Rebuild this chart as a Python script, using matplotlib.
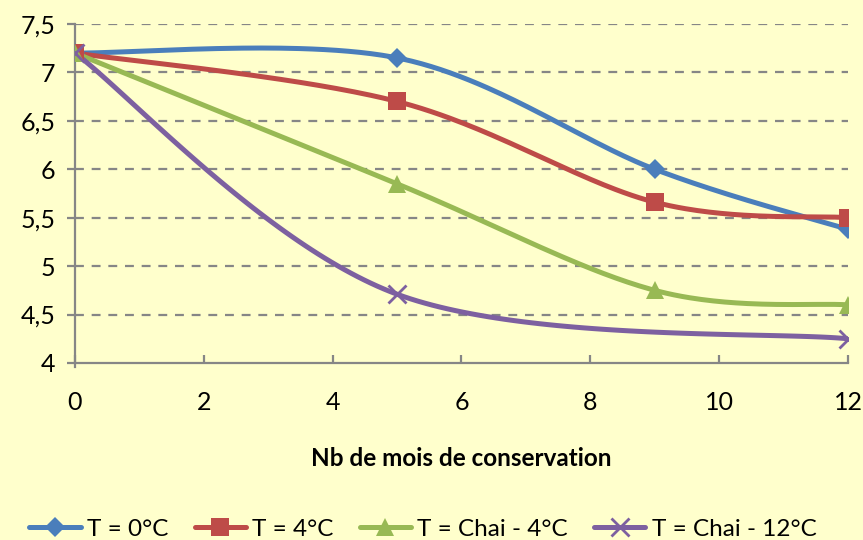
import numpy as np
import matplotlib
matplotlib.use("Agg")
import matplotlib.pyplot as plt
from matplotlib.ticker import FuncFormatter

plt.rcParams['font.family'] = ['Lato', 'DejaVu Sans']

# Months of storage and measured values for each storage condition
months_a = [0, 5, 9, 12]
t0 = [7.2, 7.15, 6.0, 5.38]
t4 = [7.2, 6.70, 5.66, 5.50]
chai4 = [7.2, 5.85, 4.75, 4.60]
months_b = [0, 5, 12]
chai12 = [7.2, 4.71, 4.25]

labels = ["T = 0°C", "T = 4°C", "T = Chai - 4°C", "T = Chai - 12°C"]
colors = ["#4A7EBB", "#BE4B48", "#98B954", "#7D60A0"]
markers = ["D", "s", "^", "x"]
msizes = [10, 13, 13, 13]

x_ticks = [0, 2, 4, 6, 8, 10, 12]
y_ticks = [4, 4.5, 5, 5.5, 6, 6.5, 7, 7.5]
bg = "#FFFFCC"


def smooth(xs, ys, n=60):
    """Cubic Bezier smoothing through the points (cardinal spline)."""
    p = np.column_stack([xs, ys]).astype(float)
    ext = np.vstack([p[0], p, p[-1]])
    out = []
    t = np.linspace(0, 1, n)[:, None]
    for i in range(len(p) - 1):
        p0, p1, p2, p3 = ext[i], ext[i + 1], ext[i + 2], ext[i + 3]
        c1 = p1 + (p2 - p0) / 6
        c2 = p2 - (p3 - p1) / 6
        seg = ((1 - t) ** 3) * p1 + 3 * ((1 - t) ** 2) * t * c1 + 3 * (1 - t) * t ** 2 * c2 + t ** 3 * p2
        out.append(seg if i == 0 else seg[1:])
    seg = np.vstack(out)
    return seg[:, 0], seg[:, 1]


fig = plt.figure(figsize=(8.63, 5.40), dpi=100, facecolor=bg)
ax = fig.add_axes([0.0869, 0.3278, 0.8957, 0.6278], facecolor=bg)

series = [(months_a, t0), (months_a, t4), (months_a, chai4), (months_b, chai12)]
handles = []
for (xs, ys), lab, c, m, ms in zip(series, labels, colors, markers, msizes):
    sx, sy = smooth(xs, ys)
    ax.plot(sx, sy, color=c, lw=3.6, solid_capstyle='round', zorder=3)
    mk_kw = dict(markeredgewidth=2.0) if m == "x" else dict(markeredgewidth=0)
    ax.plot(xs, ys, linestyle='none', marker=m, ms=ms, color=c, zorder=4, **mk_kw)
    h, = ax.plot([], [], color=c, lw=3.6, marker=m, ms=ms, solid_capstyle='round', **mk_kw)
    handles.append(h)

ax.set_xlim(0, 12)
ax.set_ylim(4, 7.5)
ax.set_xticks(x_ticks)
ax.set_yticks(y_ticks)
ax.yaxis.set_major_formatter(FuncFormatter(lambda v, p: f"{v:g}".replace(".", ",")))

for y in y_ticks[1:]:
    ax.axhline(y, color="#868686", lw=1.6, dashes=(4, 3.5), zorder=1)

for s in ["top", "right"]:
    ax.spines[s].set_visible(False)
for s in ["left", "bottom"]:
    ax.spines[s].set_color("#868686")
    ax.spines[s].set_linewidth(1.6)
ax.spines["left"].set_zorder(2)
ax.spines["left"].set_bounds(3.96, 7.5)

ax.tick_params(axis='y', direction='out', length=6, width=1.6, color="#868686",
               labelsize=18, pad=8)
ax.tick_params(axis='x', direction='in', length=6, width=1.6, color="#868686",
               labelsize=18, pad=20)

ax.set_xlabel("Nb de mois de conservation", fontsize=17.5, fontweight='bold', labelpad=24)

fig.legend(handles, labels, loc='lower center', bbox_to_anchor=(0.49, -0.04), ncol=4,
           frameon=False, fontsize=17.5, handlelength=2.1, handletextpad=0.25,
           columnspacing=1.1)

fig.savefig("out.png", dpi=100, facecolor=bg)
